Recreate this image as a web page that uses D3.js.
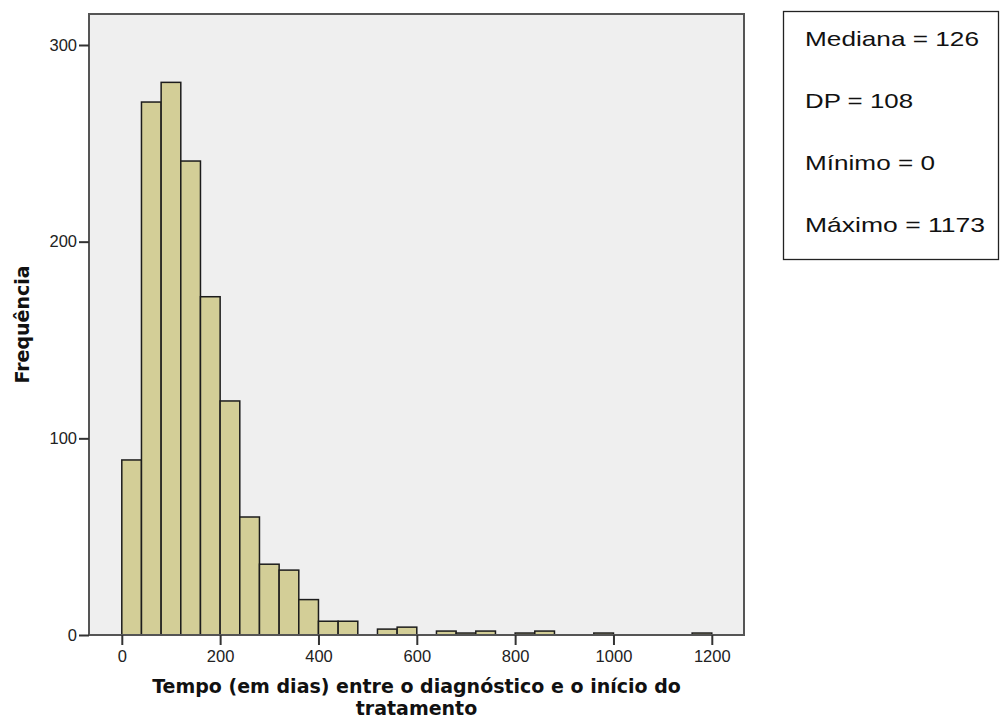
<!DOCTYPE html>
<html>
<head>
<meta charset="utf-8">
<script src="https://cdn.jsdelivr.net/npm/d3@7"></script>
<style>
  html, body { margin: 0; padding: 0; background: #ffffff; }
  svg { display: block; }
</style>
</head>
<body>
<svg id="chart" width="1000" height="720"></svg>
<script>
// ---- data ----
const binWidth = 40;
const binStarts = [0,40,80,120,160,200,240,280,320,360,400,440,480,520,560,600,640,680,720,760,800,840,880,920,960,1000,1040,1080,1120,1160];
const counts    = [89,271,281,241,172,119,60,36,33,18,7,7,0,3,4,0,2,1,2,0,1,2,0,0,1,0,0,0,0,1];
const xTicks = [0,200,400,600,800,1000,1200];
const yTicks = [0,100,200,300];
const statsLines = ["Mediana = 126", "DP = 108", "Mínimo = 0", "Máximo = 1173"];
const xTitleLines = ["Tempo (em dias) entre o diagnóstico e o início do", "tratamento"];
const yTitle = "Frequência";

// ---- layout ----
const svg = d3.select("#chart");
const frame = {left: 89, top: 14, right: 744, bottom: 635};

const x = d3.scaleLinear().domain([0, 1200]).range([121.8, 711.8]);
const y = d3.scaleLinear().domain([0, 300]).range([635, 45]);

// plot background
svg.append("rect")
  .attr("x", frame.left).attr("y", frame.top)
  .attr("width", frame.right - frame.left).attr("height", frame.bottom - frame.top)
  .attr("fill", "#efefef");

// bars
const bins = binStarts.map((s, i) => ({x0: s, x1: s + binWidth, n: counts[i]})).filter(d => d.n > 0);
svg.append("g").selectAll("rect").data(bins).join("rect")
  .attr("x", d => x(d.x0))
  .attr("y", d => y(d.n))
  .attr("width", d => x(d.x1) - x(d.x0))
  .attr("height", d => y(0) - y(d.n))
  .attr("fill", "#d3ce97")
  .attr("stroke", "#1c1c1c")
  .attr("stroke-width", 1.5);

// frame
svg.append("rect")
  .attr("x", frame.left).attr("y", frame.top)
  .attr("width", frame.right - frame.left).attr("height", frame.bottom - frame.top)
  .attr("fill", "none")
  .attr("stroke", "#555555")
  .attr("stroke-width", 2);

// axes
const fontFam = "'Liberation Sans', Arial, sans-serif";
const titleFam = "'DejaVu Sans', Verdana, sans-serif";
const yAxis = d3.axisLeft(y).tickValues(yTicks).tickSize(10).tickPadding(2).tickFormat(d3.format("d"));
const gy = svg.append("g").attr("transform", `translate(${frame.left},0)`).call(yAxis);
gy.select(".domain").remove();
gy.selectAll(".tick line").attr("stroke", "#333").attr("stroke-width", 2);
gy.selectAll(".tick text").attr("font-family", fontFam).attr("font-size", 16.5).attr("fill", "#222");

const xAxis = d3.axisBottom(x).tickValues(xTicks).tickSize(10).tickPadding(5).tickFormat(d3.format("d"));
const gx = svg.append("g").attr("transform", `translate(0,${frame.bottom})`).call(xAxis);
gx.select(".domain").remove();
gx.selectAll(".tick line").attr("stroke", "#333").attr("stroke-width", 2);
gx.selectAll(".tick text").attr("font-family", fontFam).attr("font-size", 16.5).attr("fill", "#222");

// axis titles
const xCenter = (frame.left + frame.right) / 2;
const xt = svg.append("text")
  .attr("x", xCenter).attr("y", 692.5)
  .attr("text-anchor", "middle")
  .attr("font-family", titleFam).attr("font-weight", "bold").attr("font-size", 19)
  .attr("fill", "#111");
xt.selectAll("tspan").data(xTitleLines).join("tspan")
  .attr("x", xCenter).attr("dy", (d, i) => i === 0 ? 0 : 22.5)
  .text(d => d);

svg.append("text")
  .attr("transform", `translate(29,${(frame.top + frame.bottom) / 2}) rotate(-90)`)
  .attr("text-anchor", "middle")
  .attr("font-family", titleFam).attr("font-weight", "bold").attr("font-size", 19)
  .attr("fill", "#111")
  .text(yTitle);

// stats box
svg.append("rect")
  .attr("x", 783.5).attr("y", 11.5).attr("width", 215).attr("height", 248)
  .attr("fill", "#ffffff").attr("stroke", "#222").attr("stroke-width", 1.3);
const statWidths = [174, 108, 130, 180];
svg.append("g").selectAll("text").data(statsLines).join("text")
  .attr("x", 805)
  .attr("y", (d, i) => 45.7 + i * 62.2)
  .attr("font-family", fontFam).attr("font-size", 21)
  .attr("fill", "#111")
  .attr("textLength", (d, i) => statWidths[i])
  .attr("lengthAdjust", "spacingAndGlyphs")
  .text(d => d);
</script>
</body>
</html>
